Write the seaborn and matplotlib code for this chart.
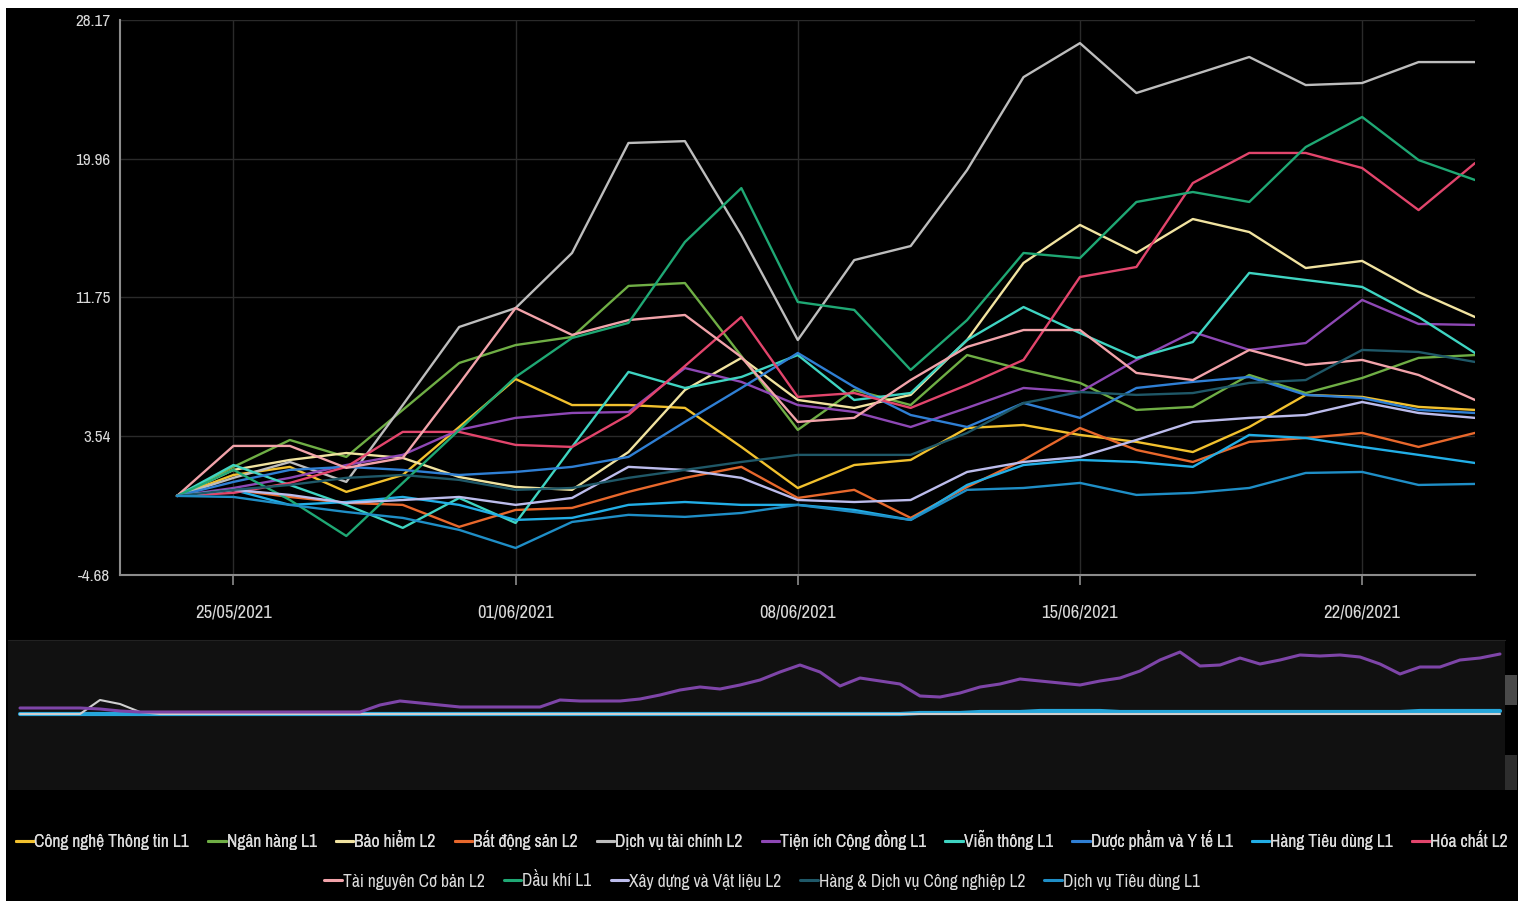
import numpy as np
import pandas as pd
import matplotlib
matplotlib.use("Agg")
import matplotlib.pyplot as plt
import seaborn as sns
from matplotlib.lines import Line2D
from matplotlib.patches import Rectangle
from matplotlib import font_manager as fm

# ---------------- data ----------------
dates = ["24/05/2021", "25/05/2021", "26/05/2021", "27/05/2021", "28/05/2021",
         "31/05/2021", "01/06/2021", "02/06/2021", "03/06/2021", "04/06/2021",
         "07/06/2021", "08/06/2021", "09/06/2021", "10/06/2021", "11/06/2021",
         "14/06/2021", "15/06/2021", "16/06/2021", "17/06/2021", "18/06/2021",
         "21/06/2021", "22/06/2021", "23/06/2021", "24/06/2021"]
tick_labels = ["25/05/2021", "01/06/2021", "08/06/2021", "15/06/2021", "22/06/2021"]
y_ticks = [-4.68, 3.54, 11.75, 19.96, 28.17]

cong_nghe = [0, 1.24, 1.72, 0.24, 1.24, 4.08, 6.92, 5.38, 5.38, 5.21, 2.90, 0.47,
             1.83, 2.13, 4.02, 4.20, 3.61, 3.20, 2.60, 4.08, 5.98, 5.86, 5.27, 5.09]
ngan_hang = [0, 1.72, 3.31, 2.31, 5.09, 7.87, 8.93, 9.41, 12.43, 12.60, 8.28, 3.91,
             6.27, 5.38, 8.34, 7.46, 6.69, 5.09, 5.27, 7.16, 6.09, 6.98, 8.17, 8.34]
bao_hiem = [0, 1.54, 2.13, 2.54, 2.25, 1.12, 0.53, 0.36, 2.60, 6.27, 8.17, 5.68,
            5.21, 5.98, 9.23, 13.79, 16.04, 14.38, 16.39, 15.62, 13.49, 13.91, 12.07, 10.59]
bat_dong_san = [0, 0.36, -0.06, -0.41, -0.53, -1.83, -0.83, -0.71, 0.24, 1.07, 1.72, -0.12,
                0.36, -1.30, 0.53, 2.13, 4.02, 2.72, 2.01, 3.20, 3.43, 3.73, 2.90, 3.73]
dv_tai_chinh = [0, 1.07, 2.01, 0.83, 5.38, 10.00, 11.12, 14.38, 20.89, 21.00, 15.44, 9.23,
                13.96, 14.79, 19.29, 24.79, 26.80, 23.85, 24.91, 25.98, 24.32, 24.44, 25.68, 25.68]
tien_ich = [0, 0.47, 1.07, 1.83, 2.43, 3.91, 4.62, 4.91, 4.97, 7.57, 6.75, 5.38,
            4.97, 4.08, 5.21, 6.39, 6.15, 8.05, 9.70, 8.64, 9.05, 11.60, 10.18, 10.12]
vien_thong = [0, 1.83, 0.65, -0.53, -1.89, -0.12, -1.60, 2.90, 7.34, 6.39, 7.04, 8.34,
              5.68, 6.09, 9.23, 11.18, 9.64, 8.17, 9.11, 13.20, 12.78, 12.37, 10.59, 8.46]
duoc_pham = [0, 0.83, 1.54, 1.72, 1.54, 1.24, 1.42, 1.72, 2.31, 4.38, 6.39, 8.46,
             6.45, 4.79, 4.08, 5.50, 4.62, 6.39, 6.75, 7.04, 5.98, 5.80, 5.09, 4.91]
hang_tieu_dung = [0, 0.36, -0.53, -0.36, -0.06, -0.53, -1.42, -1.30, -0.53, -0.36, -0.53, -0.53,
                  -0.83, -1.42, 0.65, 1.83, 2.13, 2.01, 1.72, 3.61, 3.43, 2.90, 2.43, 1.95]
hoa_chat = [0, 0.18, 0.77, 1.72, 3.79, 3.79, 3.02, 2.90, 4.79, 7.69, 10.59, 5.86,
            6.09, 5.21, 6.57, 8.05, 12.96, 13.55, 18.52, 20.30, 20.30, 19.41, 16.92, 19.70]
tai_nguyen = [0, 2.96, 2.96, 1.66, 2.25, 6.63, 11.12, 9.53, 10.41, 10.71, 8.22, 4.38,
              4.62, 6.86, 8.82, 9.82, 9.82, 7.28, 6.86, 8.64, 7.75, 8.05, 7.16, 5.68]
dau_khi = [0, 1.54, -0.24, -2.37, 0.77, 3.91, 7.04, 9.35, 10.24, 15.03, 18.22, 11.48,
           11.01, 7.46, 10.41, 14.38, 14.08, 17.40, 17.99, 17.40, 20.65, 22.43, 19.88, 18.70]
xay_dung = [0, 0.36, 0.06, -0.41, -0.24, -0.06, -0.53, -0.12, 1.72, 1.54, 1.07, -0.24,
            -0.36, -0.24, 1.42, 2.01, 2.31, 3.31, 4.38, 4.62, 4.79, 5.56, 4.91, 4.62]
cong_nghiep = [0, 0.36, 0.65, 1.07, 1.24, 0.95, 0.36, 0.47, 1.07, 1.54, 2.01, 2.43,
               2.43, 2.43, 3.73, 5.50, 6.15, 5.98, 6.09, 6.69, 6.86, 8.64, 8.52, 7.93]
dv_tieu_dung = [0, -0.06, -0.53, -0.95, -1.30, -2.01, -3.08, -1.54, -1.12, -1.24, -1.01, -0.53,
                -0.95, -1.42, 0.36, 0.47, 0.77, 0.06, 0.18, 0.47, 1.36, 1.42, 0.65, 0.71]

series_names = ["Công nghệ Thông tin L1", "Ngân hàng L1", "Bảo hiểm L2", "Bất động sản L2",
                "Dịch vụ tài chính L2", "Tiện ích Cộng đồng L1", "Viễn thông L1",
                "Dược phẩm và Y tế L1", "Hàng Tiêu dùng L1", "Hóa chất L2",
                "Tài nguyên Cơ bản L2", "Dầu khí L1", "Xây dựng và Vật liệu L2",
                "Hàng & Dịch vụ Công nghiệp L2", "Dịch vụ Tiêu dùng L1"]
series_values = [cong_nghe, ngan_hang, bao_hiem, bat_dong_san, dv_tai_chinh, tien_ich,
                 vien_thong, duoc_pham, hang_tieu_dung, hoa_chat, tai_nguyen, dau_khi,
                 xay_dung, cong_nghiep, dv_tieu_dung]
series_colors = ["#f2c12e", "#6fae45", "#f1e3a0", "#e8682c", "#bdbdbd", "#8e48b5",
                 "#3fd4c2", "#2f7fd4", "#22aee6", "#e2456c", "#f2a3aa", "#1fa874",
                 "#bcbcec", "#1f5868", "#1f8ec6"]

# navigator (long history overview)
nav_purple = [6, 6, 6, 6, 5, 3, 2, 2, 2, 2, 2, 2, 2, 2, 2, 2, 2, 2,
              9, 13, 11, 9, 7, 7, 7, 7, 7, 14, 13, 13, 13, 15, 19, 24, 27, 25, 29, 34,
              42, 49, 42, 28, 36, 33, 30, 18, 17, 21, 27, 30, 35, 33, 31, 29, 33, 36,
              43, 54, 62, 48, 49, 56, 50, 54, 59, 58, 59, 57, 50, 40, 47, 47, 54, 56, 60]
nav_grey = [0, 0, 0, 0, 14, 10, 2, 0, 0, 0, 0, 0, 0, 0, 0, 0, 0, 0,
            0, 0, 0, 0, 0, 0, 0, 0, 0, 0, 0, 0, 0, 0, 0, 0, 0, 0, 0, 0,
            0, 0, 0, 0, 0, 0, 0, 0, 0, 0, 0, 0, 0, 0, 0, 0, 0, 0,
            0, 0, 0, 0, 0, 0, 0, 0, 0, 0, 0, 0, 0, 0, 0, 0, 0, 0, 0]
nav_cyan = [0] * 45 + [1, 1, 1, 2, 2, 2, 3, 3, 3, 3, 2, 2, 2, 2, 2, 2, 2, 2,
                       2, 2, 2, 2, 2, 2, 2, 3, 3, 3, 3, 3]

# ---------------- style ----------------
sns.set_style("dark", {"axes.facecolor": "black", "figure.facecolor": "white"})
plt.rcParams["font.family"] = ["DejaVu Sans"]


def pick_narrow_font():
    """Find the narrowest installed sans font (condensed / narrow variants preferred)."""
    order = ["extra-condensed", "ultra-condensed", "condensed", "semi-condensed"]
    best = None
    best_rank = 99
    for f in fm.fontManager.ttflist:
        n = f.name.lower()
        st = str(f.stretch).lower()
        if f.style != "normal":
            continue
        rank = 99
        if "narrow" in n or "condensed" in n:
            rank = 1
        elif st in order:
            rank = 2 + order.index(st)
        if f.weight not in (400, "normal", "regular", 300, "light"):
            rank += 10
        if rank < best_rank:
            best_rank = rank
            best = f.fname
    return best


narrow_path = pick_narrow_font()


def fprops(size):
    if narrow_path:
        return fm.FontProperties(fname=narrow_path, size=size)
    return fm.FontProperties(family="DejaVu Sans", size=size)


W, H = 1523, 901
fig = plt.figure(figsize=(W / 100, H / 100), dpi=100)
fig.patches.append(Rectangle((6 / W, 0), (1518 - 6) / W, 1 - 8 / H,
                             transform=fig.transFigure, facecolor="black",
                             edgecolor="none", zorder=-10))
renderer = fig.canvas.get_renderer()


def fit_size(text, target_px, max_size):
    t = fig.text(0, 0, text, fontproperties=fprops(10))
    w = t.get_window_extent(renderer).width
    t.remove()
    return min(max_size, 10 * target_px / w)


# ---------------- main chart ----------------
ax = fig.add_axes([120 / W, 1 - 575 / H, (1475 - 120) / W, 555 / H])
rows = []
for name, vals in zip(series_names, series_values):
    for i, v in enumerate(vals):
        rows.append({"idx": i, "value": v, "series": name})
df = pd.DataFrame(rows)
palette = dict(zip(series_names, series_colors))
sns.lineplot(data=df, x="idx", y="value", hue="series", hue_order=series_names,
             palette=palette, linewidth=1.7, legend=False, ax=ax)

ax.set_facecolor("black")
ax.set_xlim(-1.01, 23.0)
ax.set_ylim(y_ticks[0], y_ticks[-1])
tick_size = fit_size("25/05/2021", 76, 14)
ytick_size = fit_size("28.17", 35, 16)
ax.set_yticks(y_ticks)
ax.set_yticklabels([f"{t:.2f}" for t in y_ticks], fontproperties=fprops(ytick_size))
tick_pos = [dates.index(t) for t in tick_labels]
ax.set_xticks(tick_pos)
ax.set_xticklabels(tick_labels, fontproperties=fprops(tick_size))
ax.set_xlabel("")
ax.set_ylabel("")
ax.grid(True, color="#2a2a2a", linewidth=1.0)
for s in ["top", "right"]:
    ax.spines[s].set_visible(False)
for s in ["left", "bottom"]:
    ax.spines[s].set_visible(True)
    ax.spines[s].set_color("#8c8c8c")
    ax.spines[s].set_linewidth(1.5)
ax.tick_params(axis="x", colors="#8c8c8c", length=7, width=1.2, pad=14,
               labelcolor="#d9d9d9", bottom=True)
ax.tick_params(axis="y", length=0, pad=7, labelcolor="#d9d9d9", left=False)

# ---------------- navigator ----------------
nav = fig.add_axes([8 / W, 1 - 790 / H, (1505 - 8) / W, 150 / H])
nav.set_facecolor("#111111")
nav_x = list(range(len(nav_purple)))
sns.lineplot(x=nav_x, y=nav_cyan, color="#26a6da", linewidth=3.0, ax=nav)
sns.lineplot(x=nav_x, y=nav_grey, color="#cfcfcf", linewidth=1.5, ax=nav)
sns.lineplot(x=nav_x, y=nav_purple, color="#7e45a8", linewidth=2.2, ax=nav)
nav.set_xlim(-0.6, 74.25)
nav.set_ylim(-76, 74)
nav.set_xticks([])
nav.set_yticks([])
nav.grid(False)
for s in nav.spines.values():
    s.set_visible(False)
nav.spines["top"].set_visible(True)
nav.spines["top"].set_color("#222222")

# navigator handles at the right
fig.patches.append(Rectangle((1505 / W, 1 - 705 / H), 12 / W, 30 / H,
                             transform=fig.transFigure, facecolor="#4a4a4a", edgecolor="none"))
fig.patches.append(Rectangle((1505 / W, 1 - 790 / H), 12 / W, 35 / H,
                             transform=fig.transFigure, facecolor="#2e2e2e", edgecolor="none"))

# ---------------- legend ----------------
handles = [Line2D([], [], color=c, linewidth=2.2) for c in series_colors]


def make_legend(idx, y_px, size):
    return fig.legend([handles[i] for i in idx], [series_names[i] for i in idx],
                      loc="center", bbox_to_anchor=(762 / W, 1 - y_px / H),
                      ncol=len(idx), frameon=False, handlelength=1.0,
                      handletextpad=0.05, columnspacing=1.1,
                      prop=fprops(size), labelcolor="#dcdcdc")


# fit the first legend row into the width used by the reference (~1505 px)
size = 14.0
leg1 = make_legend(range(10), 840, size)
w1 = leg1.get_window_extent(renderer).width
if w1 > 1500:
    leg1.remove()
    size = size * 1500 / w1
    leg1 = make_legend(range(10), 840, size)
leg2 = make_legend(range(10, 15), 881, size)
fig.add_artist(leg1)

fig.savefig("out.png", dpi=100, facecolor=fig.get_facecolor())
